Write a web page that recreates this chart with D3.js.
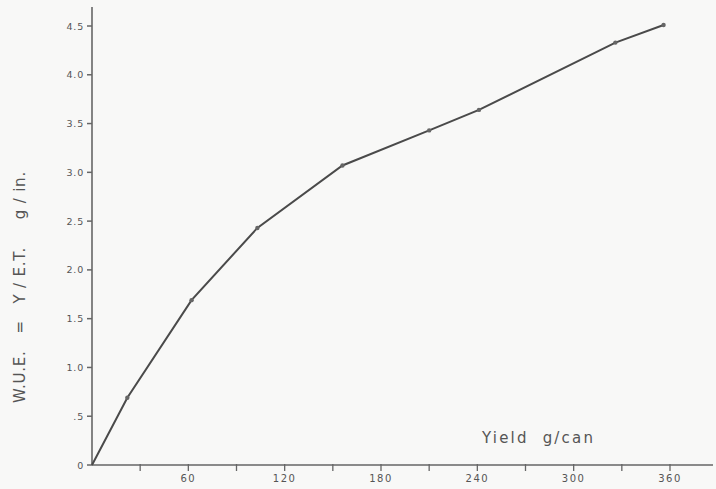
<!DOCTYPE html>
<html>
<head>
<meta charset="utf-8">
<script src="https://cdn.jsdelivr.net/npm/d3@7"></script>
<style>
  body { margin: 0; background: #f8f8f7; }
  svg { display: block; }
  text { font-family: "DejaVu Sans", sans-serif; fill: #555; }
</style>
</head>
<body>
<div id="chart"></div>
<script>
// values
var yieldVals = [0, 22, 62, 103, 156, 210, 241, 326, 356]
var wueVals = [0, 0.69, 1.69, 2.43, 3.07, 3.43, 3.64, 4.33, 4.51]
var xTicks = [30, 60, 90, 120, 150, 180, 210, 240, 270, 300, 330, 360]
var xLabels = [60, 120, 180, 240, 300, 360]
var yTicks = [0, 0.5, 1, 1.5, 2, 2.5, 3, 3.5, 4, 4.5]
var yLabels = ["0", ".5", "1.0", "1.5", "2.0", "2.5", "3.0", "3.5", "4.0", "4.5"]

var W = 716, H = 489
var svg = d3.select("#chart").append("svg")
  .attr("width", W)
  .attr("height", H)

var x = d3.scaleLinear().domain([0, 360]).range([92, 670])
var y = d3.scaleLinear().domain([0, 4.5]).range([465, 26])

// axes: plain pen lines like the original
svg.append("line")
  .attr("x1", x(0)).attr("x2", 713)
  .attr("y1", y(0)).attr("y2", y(0))
  .attr("stroke", "#666").attr("stroke-width", 1.6)
svg.append("line")
  .attr("x1", x(0)).attr("x2", x(0))
  .attr("y1", y(0)).attr("y2", 7)
  .attr("stroke", "#666").attr("stroke-width", 1.6)

svg.selectAll(".xt").data(xTicks)
  .enter().append("line")
  .attr("x1", d => x(d)).attr("x2", d => x(d))
  .attr("y1", y(0) - 1).attr("y2", y(0) + 6)
  .attr("stroke", "#666").attr("stroke-width", 1.3)

svg.selectAll(".xl").data(xLabels)
  .enter().append("text")
  .attr("x", d => x(d)).attr("y", 482)
  .attr("text-anchor", "middle")
  .attr("font-size", 10)
  .attr("letter-spacing", 1.5)
  .text(d => d)

svg.selectAll(".yt").data(yTicks)
  .enter().append("line")
  .attr("x1", x(0) - 5).attr("x2", x(0))
  .attr("y1", d => y(d)).attr("y2", d => y(d))
  .attr("stroke", "#666").attr("stroke-width", 1.5)

svg.selectAll(".yl").data(yTicks)
  .enter().append("text")
  .attr("x", 84).attr("y", d => y(d) + 3.5)
  .attr("text-anchor", "end")
  .attr("font-size", 9.5)
  .attr("letter-spacing", 0.8)
  .text((d, i) => yLabels[i])

// the curve
var line = d3.line()
  .x((d, i) => x(yieldVals[i]))
  .y(d => y(d))
svg.append("path")
  .datum(wueVals)
  .attr("fill", "none")
  .attr("stroke", "#4a4a4a")
  .attr("stroke-width", 2)
  .attr("d", line)

svg.selectAll(".pt").data(wueVals.slice(1))
  .enter().append("circle")
  .attr("cx", (d, i) => x(yieldVals[i + 1]))
  .attr("cy", d => y(d))
  .attr("r", 2.2)
  .attr("fill", "#666")

// axis titles
svg.append("text")
  .attr("transform", "translate(25,287) rotate(-90)")
  .attr("text-anchor", "middle")
  .attr("font-size", 15)
  .attr("letter-spacing", 0.8)
  .attr("fill", "#777")
  .attr("xml:space", "preserve")
  .text("W.U.E.   =   Y / E.T.     g / in.")

svg.append("text")
  .attr("x", 482).attr("y", 443)
  .attr("font-size", 15)
  .attr("letter-spacing", 2.2)
  .attr("xml:space", "preserve")
  .text("Yield  g/can")
</script>
</body>
</html>
